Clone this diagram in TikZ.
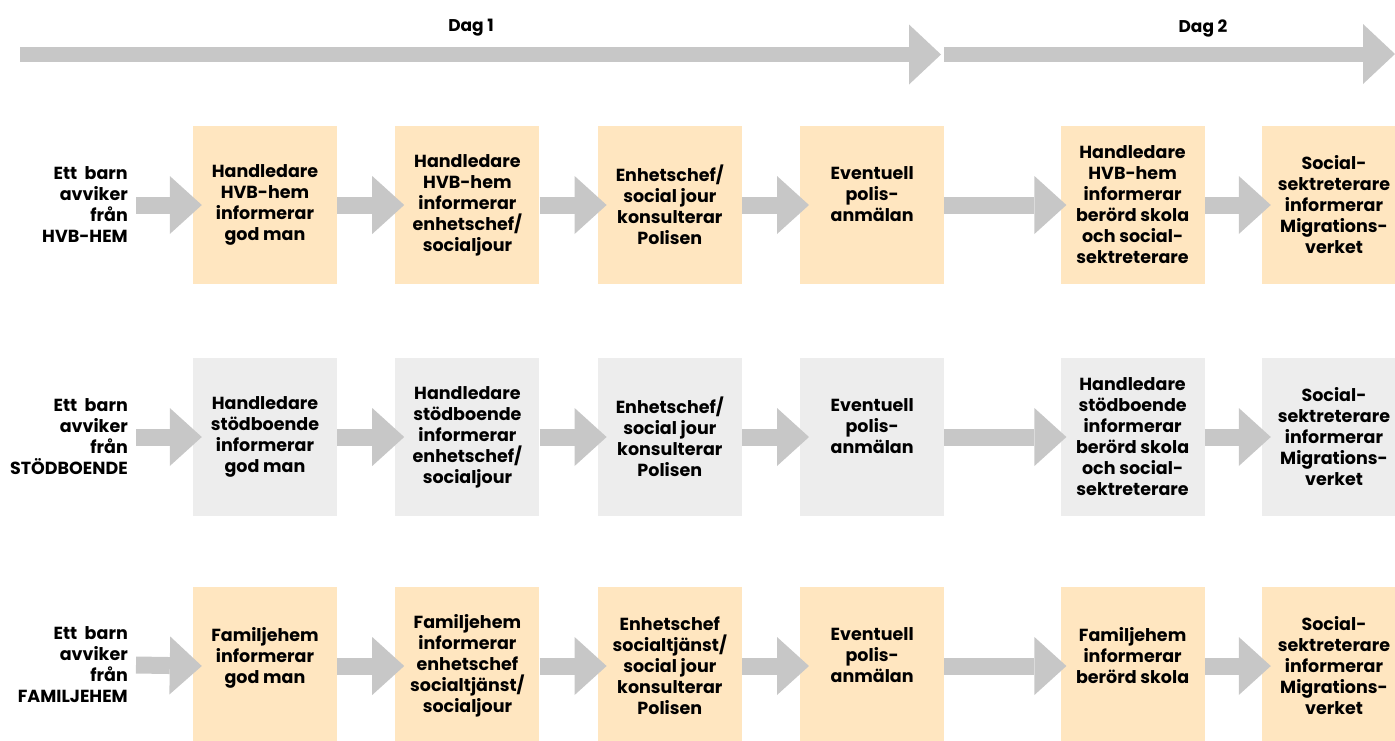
\documentclass[tikz,border=0pt]{standalone}
\usepackage{fontspec}
\setmainfont{Poppins}
\usetikzlibrary{arrows.meta,positioning}

\definecolor{peach}{HTML}{FFE6C0}
\definecolor{paleGrey}{HTML}{EDEDED}
\definecolor{arrowGrey}{HTML}{C7C7C7}

\tikzset{
	stepbox/.style={rectangle, inner sep=0pt, minimum width=144pt, minimum height=158pt, align=center, font=\bfseries\fontsize{17.5}{21}\selectfont},
	startlabel/.style={anchor=east, inner sep=0pt, align=right, font=\bfseries\fontsize{17.5}{21}\selectfont},
	flow/.style={draw=arrowGrey, line width=17pt, -{Triangle[length=32pt, width=58pt, line width=0pt]}},
	dayflow/.style={draw=arrowGrey, line width=15pt, -{Triangle[length=32pt, width=60pt, line width=0pt]}},
	daylabel/.style={font=\bfseries\fontsize{17}{20}\selectfont}
}

\begin{document}
\begin{tikzpicture}[x=1pt, y=-1pt]
	\useasboundingbox (0,0) rectangle (1395,740);

	\coordinate (d1start) at (20,54.5);
	\coordinate (d1end) at (941,54.5);
	\coordinate (d2start) at (944,54);
	\coordinate (d2end) at (1395,54);
	\draw[dayflow] (d1start) -- (d1end);
	\draw[dayflow] (d2start) -- (d2end);
	\node[daylabel] (dag1) at (471,28) {Dag 1};
	\node[daylabel] (dag2) at (1203,28) {Dag 2};

	\node[startlabel] (hvbstart) at (128,205) {Ett\ \ barn\\avviker\\från\\HVB-HEM};
	\node[stepbox, fill=peach] (hvb1) at (265,205) {Handledare\\HVB-hem\\informerar\\god man};
	\node[stepbox, fill=peach, right=58pt of hvb1] (hvb2) {Handledare\\HVB-hem\\informerar\\enhetschef/\\socialjour};
	\node[stepbox, fill=peach, right=58pt of hvb2] (hvb3) {Enhetschef/\\social jour\\konsulterar\\Polisen};
	\node[stepbox, fill=peach, right=58pt of hvb3] (hvb4) {Eventuell\\polis-\\anmälan\\~};
	\node[stepbox, fill=peach, right=116pt of hvb4] (hvb5) {Handledare\\HVB-hem\\informerar\\berörd skola\\och social-\\sektreterare};
	\node[stepbox, fill=peach, right=57pt of hvb5] (hvb6) {Social-\\sektreterare\\informerar\\Migrations-\\verket};
	\draw[flow] ([xshift=8pt]hvbstart.east) -- ([xshift=9pt]hvb1.west);
	\draw[flow] (hvb1.east) -- ([xshift=9pt]hvb2.west);
	\draw[flow] (hvb2.east) -- ([xshift=9pt]hvb3.west);
	\draw[flow] (hvb3.east) -- ([xshift=9pt]hvb4.west);
	\draw[flow] (hvb4.east) -- ([xshift=6pt]hvb5.west);
	\draw[flow] (hvb5.east) -- ([xshift=9pt]hvb6.west);

	\node[startlabel] (stodstart) at (128,437) {Ett\ \ barn\\avviker\\från\\STÖDBOENDE};
	\node[stepbox, fill=paleGrey] (stod1) at (265,437) {Handledare\\stödboende\\informerar\\god man};
	\node[stepbox, fill=paleGrey, right=58pt of stod1] (stod2) {Handledare\\stödboende\\informerar\\enhetschef/\\socialjour};
	\node[stepbox, fill=paleGrey, right=58pt of stod2] (stod3) {Enhetschef/\\social jour\\konsulterar\\Polisen};
	\node[stepbox, fill=paleGrey, right=58pt of stod3] (stod4) {Eventuell\\polis-\\anmälan\\~};
	\node[stepbox, fill=paleGrey, right=116pt of stod4] (stod5) {Handledare\\stödboende\\informerar\\berörd skola\\och social-\\sektreterare};
	\node[stepbox, fill=paleGrey, right=57pt of stod5] (stod6) {Social-\\sektreterare\\informerar\\Migrations-\\verket};
	\draw[flow] ([xshift=8pt]stodstart.east) -- ([xshift=9pt]stod1.west);
	\draw[flow] (stod1.east) -- ([xshift=9pt]stod2.west);
	\draw[flow] (stod2.east) -- ([xshift=9pt]stod3.west);
	\draw[flow] (stod3.east) -- ([xshift=9pt]stod4.west);
	\draw[flow] (stod4.east) -- ([xshift=6pt]stod5.west);
	\draw[flow] (stod5.east) -- ([xshift=9pt]stod6.west);

	\node[startlabel] (famstart) at (128,665) {Ett\ \ barn\\avviker\\från\\FAMILJEHEM};
	\node[stepbox, fill=peach] (fam1) at (265,666) {Familjehem\\informerar\\god man\\~};
	\node[stepbox, fill=peach, right=58pt of fam1] (fam2) {Familjehem\\informerar\\enhetschef\\socialtjänst/\\socialjour};
	\node[stepbox, fill=peach, right=58pt of fam2] (fam3) {Enhetschef\\socialtjänst/\\social jour\\konsulterar\\Polisen};
	\node[stepbox, fill=peach, right=58pt of fam3] (fam4) {Eventuell\\polis-\\anmälan\\~};
	\node[stepbox, fill=peach, right=116pt of fam4] (fam5) {Familjehem\\informerar\\berörd skola\\~};
	\node[stepbox, fill=peach, right=57pt of fam5] (fam6) {Social-\\sektreterare\\informerar\\Migrations-\\verket};
	\draw[flow] ([xshift=8pt]famstart.east) -- ([xshift=9pt]fam1.west);
	\draw[flow] (fam1.east) -- ([xshift=9pt]fam2.west);
	\draw[flow] (fam2.east) -- ([xshift=9pt]fam3.west);
	\draw[flow] (fam3.east) -- ([xshift=9pt]fam4.west);
	\draw[flow] (fam4.east) -- ([xshift=6pt]fam5.west);
	\draw[flow] (fam5.east) -- ([xshift=9pt]fam6.west);
\end{tikzpicture}
\end{document}
